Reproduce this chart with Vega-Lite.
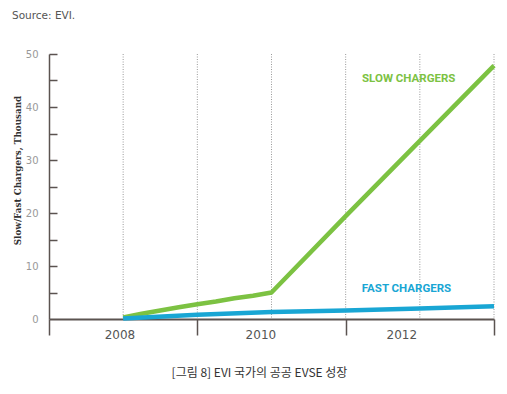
{
  "$schema": "https://vega.github.io/schema/vega-lite/v6.json",
  "width": 445,
  "height": 265,
  "autosize": {"type": "none"},
  "padding": {"left": 49, "top": 54, "right": 13, "bottom": 75},
  "background": "white",
  "config": {"view": {"stroke": null}},
  "title": {
    "text": "Source: EVI.",
    "anchor": "start",
    "frame": "group",
    "dx": -37,
    "offset": 28,
    "font": "DejaVu Sans",
    "fontSize": 10.5,
    "fontWeight": "normal",
    "color": "#555"
  },
  "datasets": {
    "series": [
      {"year": 2008.0, "value": 0.3, "type": "Slow"},
      {"year": 2008.25, "value": 1.0, "type": "Slow"},
      {"year": 2008.5, "value": 1.6, "type": "Slow"},
      {"year": 2008.75, "value": 2.2, "type": "Slow"},
      {"year": 2009.0, "value": 2.8, "type": "Slow"},
      {"year": 2009.25, "value": 3.3, "type": "Slow"},
      {"year": 2009.5, "value": 3.9, "type": "Slow"},
      {"year": 2009.75, "value": 4.4, "type": "Slow"},
      {"year": 2010.0, "value": 5.0, "type": "Slow"},
      {"year": 2011.0, "value": 19.4, "type": "Slow"},
      {"year": 2012.0, "value": 33.6, "type": "Slow"},
      {"year": 2013.0, "value": 47.8, "type": "Slow"},
      {"year": 2008.0, "value": 0.1, "type": "Fast"},
      {"year": 2009.0, "value": 0.8, "type": "Fast"},
      {"year": 2010.0, "value": 1.3, "type": "Fast"},
      {"year": 2011.0, "value": 1.6, "type": "Fast"},
      {"year": 2012.0, "value": 2.0, "type": "Fast"},
      {"year": 2013.0, "value": 2.4, "type": "Fast"}
    ],
    "grid": [
      {"year": 2008}, {"year": 2009}, {"year": 2010}, {"year": 2011}, {"year": 2012}, {"year": 2013}
    ],
    "labels": [
      {"year": 2011.85, "value": 45.2, "label": "SLOW CHARGERS", "type": "Slow"},
      {"year": 2011.82, "value": 5.6, "label": "FAST CHARGERS", "type": "Fast"}
    ]
  },
  "resolve": {"axis": {"x": "independent", "y": "independent"}},
  "layer": [
    {
      "data": {"name": "grid"},
      "mark": {"type": "rule", "stroke": "#9a9a9a", "strokeWidth": 1, "strokeDash": [1, 1.5]},
      "encoding": {
        "x": {"field": "year", "type": "quantitative", "scale": {"domain": [2007, 2013], "nice": false, "zero": false}, "axis": null}
      }
    },
    {
      "data": {"name": "series"},
      "mark": {"type": "line", "strokeWidth": 4.5, "strokeCap": "butt", "strokeJoin": "round"},
      "encoding": {
        "x": {
          "field": "year", "type": "quantitative",
          "scale": {"domain": [2007, 2013], "nice": false, "zero": false},
          "axis": {
            "orient": "bottom",
            "values": [2007, 2009, 2011, 2013],
            "labels": false,
            "title": null,
            "grid": false,
            "tickSize": 16,
            "tickWidth": 1.5,
            "tickColor": "#5b5350",
            "domainColor": "#5b5350",
            "domainWidth": 2
          }
        },
        "y": {
          "field": "value", "type": "quantitative",
          "scale": {"domain": [0, 50], "nice": false},
          "axis": {
            "orient": "left",
            "values": [5, 10, 15, 20, 25, 30, 35, 40, 45, 50],
            "labels": false,
            "domain": false,
            "grid": false,
            "offset": -8,
            "tickSize": 8,
            "tickWidth": 1.5,
            "tickColor": "#5b5350",
            "title": null
          }
        },
        "color": {
          "field": "type", "type": "nominal",
          "scale": {"domain": ["Slow", "Fast"], "range": ["#7cc242", "#19a6d4"]},
          "legend": null
        },
        "detail": {"field": "type"}
      }
    },
    {
      "data": {"name": "labels"},
      "mark": {"type": "text", "font": "Roboto", "fontWeight": "bold", "fontSize": 11.5, "align": "center", "baseline": "middle"},
      "encoding": {
        "x": {
          "field": "year", "type": "quantitative",
          "scale": {"domain": [2007, 2013], "nice": false, "zero": false},
          "axis": {
            "orient": "bottom",
            "values": [2007.95, 2009.85, 2011.75],
            "labelExpr": "format(round(datum.value), 'd')",
            "ticks": false,
            "domain": false,
            "grid": false,
            "labelPadding": 10,
            "labelFont": "DejaVu Sans",
            "labelFontSize": 12,
            "labelColor": "#555",
            "title": "[그림 8] EVI 국가의 공공 EVSE 성장",
            "titleFont": "Noto Sans CJK KR",
            "titleFontSize": 12,
            "titleFontWeight": "normal",
            "titleColor": "#333",
            "titleX": 210,
            "titlePadding": 27
          }
        },
        "y": {
          "field": "value", "type": "quantitative",
          "scale": {"domain": [0, 50], "nice": false},
          "axis": {
            "orient": "left",
            "values": [0, 10, 20, 30, 40, 50],
            "ticks": false,
            "grid": false,
            "domainColor": "#5b5350",
            "domainWidth": 1.5,
            "labelPadding": 11,
            "labelFont": "DejaVu Sans",
            "labelFontSize": 10,
            "labelColor": "#999",
            "title": "Slow/Fast Chargers, Thousand",
            "titleFont": "DejaVu Serif",
            "titleFontWeight": "bold",
            "titleFontSize": 8.8,
            "titleColor": "#333",
            "titleX": -27,
            "titleY": 116
          }
        },
        "text": {"field": "label"},
        "color": {"field": "type", "type": "nominal", "legend": null}
      }
    }
  ]
}
